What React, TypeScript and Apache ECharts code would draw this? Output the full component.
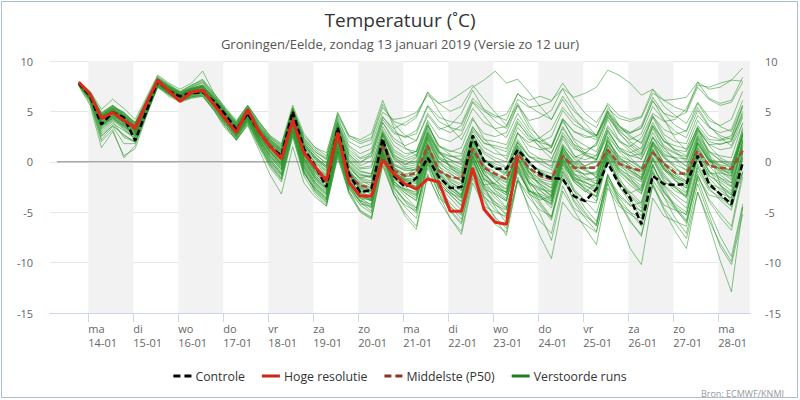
import { useRef, useEffect } from "react";
import * as echarts from "echarts";
import type { EChartsOption } from "echarts";

// x-axis in days relative to ma 14-01 00:00, one value every 6 hours
const FIRST_X = -5 / 24; // zo 13-01 19:00
const STEP_X = 0.25;
const X_MIN = -0.851;
const X_MAX = 14.704;

const dayNames = ["ma", "di", "wo", "do", "vr", "za", "zo", "ma", "di", "wo", "do", "vr", "za", "zo", "ma"];
const dayDates = ["14-01", "15-01", "16-01", "17-01", "18-01", "19-01", "20-01", "21-01", "22-01", "23-01", "24-01", "25-01", "26-01", "27-01", "28-01"];
const shadedDays = [0, 2, 4, 6, 8, 10, 12, 14];
const yTicks = [-15, -10, -5, 0, 5, 10];

const controle = [
  7.8, 6.5, 3.7, 4.9, 4.4, 2.1, 5.0, 8.0, 7.0, 6.5, 6.8, 6.9, 6.0, 4.7, 3.2, 4.8, 3.0, 1.5, 0.6, 5.0,
  1.3, -0.4, -2.5, 3.4, -1.2, -3.0, -2.8, 2.3, -1.4, -2.5, -1.6, 0.4, -1.5, -2.6, -2.5, 2.6, 0.1, -0.7, -0.7, 1.2,
  0.0, -1.2, -1.6, -1.7, -3.4, -3.9, -2.7, -0.1, -2.2, -3.6, -6.2, -1.4, -2.2, -2.3, -2.2, 0.6, -2.2, -3.2, -4.2, -0.1,
];

const hogeResolutie = [
  7.9, 6.7, 4.3, 4.9, 4.1, 3.4, 5.8, 8.1, 7.0, 6.0, 6.9, 7.1, 5.7, 4.3, 2.9, 5.2, 3.0, 1.5, 0.3, 4.1,
  0.9, -0.5, -1.9, 2.9, -2.0, -3.4, -3.4, 0.2, -1.2, -2.2, -2.7, -1.7, -2.0, -4.9, -4.9, -0.6, -4.7, -6.0, -6.2, 0.5,
];

const middelste = [
  7.8, 6.6, 4.2, 4.9, 4.2, 3.2, 5.6, 8.0, 7.1, 6.5, 7.0, 7.1, 5.9, 4.6, 3.2, 4.8, 3.0, 1.6, 0.6, 4.4,
  1.0, -0.6, -1.7, 2.7, -1.3, -2.4, -2.5, 1.7, -0.9, -1.4, -1.1, 1.6, -0.9, -1.5, -1.7, 1.3, -0.6, -1.2, -1.7, 0.8,
  -0.6, -1.4, -1.7, 0.6, -0.6, -0.6, -0.6, 1.2, -0.2, -0.6, -0.9, 0.9, -0.2, -1.1, -1.2, 1.1, -0.4, -0.6, -0.7, 1.1,
];

// 50 verstoorde runs
const runs: number[][] = [
  [7.9, 6.8,4.5,5.2,4.4, 3.4,5.8,8.2,7.4, 6.7,7.2,7.4,6.2, 4.8,3.5,5.1,3.3, 1.9,1.0,4.9,1.6, 0.2,-0.8,3.5,0.1, -1.0,-1.2,2.8,0.5, -0.3,0.4,3.2,0.9, 0.2,-0.3,2.6,0.8, 0.1,-0.5,2.2,0.6, -0.2,-0.8,1.8,0.3, -0.4,0.2,2.5,1.1, 0.6,0.3,2.4,1.4, 0.8,0.5,3.1,1.7, 1.2,1.4,3.8],
  [7.7, 6.4,3.8,4.6,3.9, 2.8,5.3,7.8,7.0, 6.3,6.8,7.0,5.7, 4.2,2.8,4.5,2.5, 1.0,-0.2,4.0,0.3, -1.5,-2.8,2.0,-2.2, -3.8,-4.5,0.6,-2.4, -3.9,-4.8,0.2,-2.6, -4.1,-5.2,-0.5,-3.4, -4.8,-5.6,-0.8,-2.9, -3.6,-4.1,0.4,-1.8, -2.7,-3.5,0.9,-1.5, -3.4,-4.6,-0.3,-2.6, -4.5,-5.8,-1.2,-3.9, -5.5,-6.8,-1.5],
  [7.8, 6.7,4.6,5.4,4.8, 3.9,6.1,8.3,7.5, 6.9,7.3,7.6,6.4, 5.0,3.7,5.3,3.6, 2.2,1.4,5.1,2.0, 0.8,-0.2,3.9,1.5, 0.4,0.9,4.2,2.8, 2.5,3.1,5.6,4.4, 4.0,3.8,6.3,5.2, 4.6,4.1,6.8,5.5, 4.8,4.2,6.5,5.0, 4.1,3.4,5.8,4.6, 4.2,4.5,7.2,6.1, 5.4,5.0,7.9,6.3, 5.8,6.1,8.4],
  [7.6, 6.2,2.8,3.8,3.1, 2.4,4.9,7.6,6.8, 6.0,6.4,6.8,5.4, 3.8,2.4,4.2,2.0, 0.2,-1.0,3.2,-0.6, -2.4,-3.7,1.1,-3.0, -4.9,-5.6,-0.2,-3.3, -5.1,-6.4,-1.2,-3.8, -5.6,-6.9,-1.6,-4.4, -6.2,-7.0,-1.8,-3.6, -4.8,-5.4,-0.9,-2.9, -3.8,-4.1,0.2,-2.2, -3.1,-2.6,1.0,-0.8, -1.6,-2.0,1.9,0.1, -0.8,-1.2,2.6],
  [7.9, 6.9,4.9,5.6,4.6, 3.5,5.9,8.1,7.1, 6.4,6.9,7.2,6.0, 4.5,3.1,4.9,2.9, 1.3,0.1,4.6,0.8, -0.9,-2.0,3.0,-0.8, -2.6,-3.2,2.2,-0.5, -1.8,-2.5,2.4,-0.4, -2.0,-2.8,2.0,-0.9, -2.6,-3.3,1.4,-1.0, -2.5,-3.4,1.6,-0.6, -1.7,-2.2,2.5,0.0, -1.5,-2.4,2.0,-0.2, -1.8,-2.6,2.3,0.4, -0.9,-1.6,3.0],
  [7.5, 5.6,1.4,3.0,0.6, 1.3,4.5,7.5,6.6, 6.0,6.6,7.0,5.5, 3.9,2.5,4.0,1.8, -0.4,-1.8,2.6,-1.2, -2.6,-3.6,1.3,-2.0, -3.0,-2.8,1.8,-0.6, -1.4,-0.6,2.9,0.6, -0.5,-1.4,2.1,-0.2, -1.8,-3.0,0.5,-2.2, -4.0,-5.5,-1.6,-3.8, -5.2,-6.4,-1.8,-3.4, -4.4,-4.0,0.3,-1.8, -2.9,-3.4,1.4,-0.9, -2.4,-3.1,2.2],
  [8.0, 7.0,5.2,6.2,5.3, 4.2,6.4,8.6,7.8, 7.2,7.8,9.0,6.8, 5.4,4.1,5.6,3.9, 2.4,1.6,5.3,2.2, 1.0,0.2,4.6,2.4, 1.8,2.2,5.4,4.0, 3.6,4.4,6.9,5.8, 5.0,5.5,7.4,8.1, 9.0,7.8,8.2,6.9, 5.5,4.2,6.2,4.4, 3.1,2.4,5.1,3.6, 2.9,3.3,6.0,4.8, 4.4,4.9,7.4,6.2, 5.6,5.9,7.9],
  [7.8, 6.5,4.0,4.8,4.0, 3.0,5.5,7.9,7.1, 6.4,6.9,7.1,5.9, 4.4,3.0,4.7,2.7, 1.2,0.0,4.2,0.5, -1.1,-2.2,2.5,-1.0, -2.2,-2.9,1.9,-0.9, -1.9,-2.6,1.5,-1.2, -2.4,-3.4,0.8,-1.9, -3.3,-4.5,-0.2,-2.6, -4.2,-5.6,-1.0,-3.4, -5.0,-6.3,-1.2,-3.9, -5.8,-7.4,-2.3,-4.8, -6.9,-8.6,-3.0,-6.2, -9.8,-12.9,-4.5],
  [7.8, 6.6,4.3,5.0,4.4, 3.3,5.7,8.1,7.3, 6.6,7.1,7.3,6.1, 4.7,3.3,4.9,3.2, 1.8,0.8,4.7,1.3, -0.1,-1.0,3.3,-0.2, -1.3,-1.6,2.9,0.6, 0.1,0.5,3.6,1.5, 1.0,1.4,4.2,2.8, 2.5,2.9,5.6,4.1, 4.4,5.1,7.3,6.4, 6.8,7.4,9.1,8.6, 7.8,6.6,7.2,5.5, 4.6,3.8,5.9,4.4, 3.5,3.0,5.6],
  [7.7, 6.3,3.5,4.3,3.6, 2.6,5.1,7.7,6.9, 6.2,6.7,7.0,5.6, 4.1,2.6,4.3,2.2, 0.6,-0.6,3.6,-0.2, -2.0,-3.2,1.6,-2.6, -4.3,-5.1,0.3,-2.9, -4.5,-5.6,-0.6,-3.2, -4.8,-6.0,-1.1,-3.9, -5.5,-6.6,-1.5,-4.7, -7.4,-9.6,-4.0,-5.5, -6.2,-7.0,-2.2,-4.1, -5.0,-5.6,-1.1,-3.0, -4.2,-5.0,-0.6,-2.6, -3.8,-4.8,-0.2],
  [7.9, 6.7,4.4,5.1,4.2, 3.1,5.6,8.0,7.2, 6.5,7.0,7.0,5.8, 4.3,2.9,4.6,2.6, 1.0,-0.3,4.1,0.4, -1.3,-2.5,2.4,-1.4, -2.8,-3.6,1.2,-1.6, -2.7,-3.3,1.0,-1.8, -3.0,-4.0,0.3,-2.6, -4.0,-5.2,-0.4,-3.0, -4.4,-5.8,-1.3,-4.0, -5.6,-6.9,-2.0,-5.7, -8.6,-10.2,-3.6,-5.4, -5.9,-6.4,-1.5,-3.3, -3.6,-4.4,0.4],
  [7.8, 6.6,4.1,4.8,4.3, 3.4,5.6,7.9,7.2, 6.6,7.1,7.2,6.0, 4.6,3.3,4.9,3.0, 1.5,0.5,4.5,0.9, -0.7,-1.8,2.8,-0.9, -2.0,-2.1,2.0,-0.4, -0.8,-0.9,2.7,0.3, -0.4,-1.0,2.4,0.2, -0.6,-1.1,2.0,0.5, 0.0,-0.4,2.6,1.3, 0.9,0.6,3.4,2.0, 1.5,2.4,4.8,4.0, 4.2,5.3,7.6,7.4, 7.8,8.1,9.3],
  [7.6, 6.0,2.2,3.5,1.8, 1.8,4.7,7.6,6.9, 6.3,6.7,7.0,5.6, 4.0,2.6,4.4,2.3, 0.4,-0.8,3.5,-0.5, -2.3,-3.5,1.4,-2.3, -4.0,-4.6,0.9,-1.9, -3.1,-3.9,0.6,-2.1, -3.2,-4.4,0.0,-2.3, -2.1,-1.0,2.8,1.9, 2.4,3.2,5.4,4.1, 3.3,2.6,4.9,2.9, 1.6,0.7,3.3,1.4, 0.2,-0.9,2.5,0.5, -0.6,-1.4,2.8],
  [7.8, 6.5,4.7,5.5,4.9, 3.8,5.9,8.2,7.3, 6.6,7.4,7.9,6.5, 5.1,3.8,5.4,3.7, 2.3,1.2,5.0,1.8, 0.5,-0.5,3.8,0.8, -0.4,0.1,3.5,1.6, 0.8,1.0,3.9,1.2, -0.6,-1.5,1.8,-0.4, -1.6,-2.4,1.4,-0.7, -1.8,-2.6,1.2,-0.9, -1.2,-1.0,2.2,0.4, -0.2,-0.9,2.5,0.8, 0.3,-0.4,2.8,0.9, 0.2,-0.3,3.2],
  [7.7, 6.6,4.2,4.8,3.8, 2.5,5.2,7.8,7.0, 6.4,6.8,6.9,5.7, 4.1,2.6,4.2,2.1, 0.3,-1.2,3.3,-0.9, -3.0,-4.2,0.7,-2.7, -3.9,-3.3,1.4,-1.2, -1.6,-1.9,1.8,-0.8, -1.7,-2.2,1.5,-0.6, -1.4,-2.0,1.0,-0.9, -2.3,-3.5,0.1,-2.0, -3.0,-2.1,1.6,0.3, -0.4,-1.3,1.7,-0.6, -1.8,-3.0,0.5,-1.9, -3.3,-4.5,-0.9],
  [7.9, 6.8,4.6,5.3,4.5, 3.6,6.0,8.4,7.6, 6.9,7.5,8.0,6.7, 5.2,3.9,5.6,4.0, 2.5,1.7,5.4,2.4, 1.2,0.4,4.2,2.0, 1.4,1.8,4.9,4.2, 4.4,4.9,6.6,5.8, 6.1,6.8,7.6,6.2, 4.9,3.6,5.8,3.8, 2.2,1.4,4.2,2.1, 0.8,0.2,3.1,1.3, 0.4,-0.6,2.4,0.6, -0.5,-1.6,1.8,0.0, -1.0,-1.8,2.1],
  [7.6, 6.1,3.2,4.1,3.3, 2.2,4.9,7.6,6.8, 6.1,6.5,6.6,5.2, 3.6,2.2,3.8,1.6, -0.2,-1.6,2.8,-1.0, -2.9,-4.0,0.9,-2.9, -4.8,-5.5,0.1,-3.2, -5.4,-6.7,-1.4,-3.6, -4.5,-5.3,-0.6,-2.7, -3.2,-3.9,0.2,-2.0, -2.8,-3.9,0.0,-1.7, -2.0,-2.8,1.3,-0.7, -1.4,-2.0,1.8,-0.1, -0.8,-1.2,2.4,0.7, -0.4,-0.9,3.4],
  [7.8, 6.7,4.5,5.3,4.6, 3.7,5.8,8.1,7.4, 6.8,7.2,7.5,6.3, 4.9,3.6,5.2,3.4, 2.0,1.1,5.2,2.6, 1.4,0.9,4.8,2.6, 2.2,2.8,6.1,3.4, 1.4,0.6,3.4,1.0, -0.4,-1.1,2.2,0.1, -0.7,-1.2,1.9,-0.1, -1.0,-1.8,1.1,-0.4, -0.9,-1.3,2.2,0.5, -0.5,-1.7,1.6,-0.1, -1.2,-1.9,2.0,0.2, -0.5,-1.0,2.9],
  [7.7, 6.5,3.9,4.7,4.0, 3.0,5.4,7.9,7.1, 6.5,6.9,7.1,5.9, 4.5,3.1,4.7,2.8, 1.4,0.4,4.4,0.7, -1.0,-2.1,2.6,-1.0, -2.5,-2.9,1.6,-1.1, -1.9,-2.2,1.7,-0.8, -1.8,-2.4,1.2,-0.9, -1.5,-2.1,0.9,-0.7, -1.2,-1.7,1.6,0.4, 0.9,1.7,4.5,3.2, 2.8,3.4,6.1,4.2, 2.3,1.1,3.4,0.8, -2.2,-4.0,-1.1],
  [7.8, 6.4,3.6,4.4,3.4, 2.5,5.0,7.7,7.0, 6.3,6.8,7.0,5.7, 4.3,2.9,4.6,2.7, 1.1,-0.1,4.0,0.2, -1.7,-2.9,2.1,-1.6, -3.1,-3.8,0.9,-1.8, -2.2,-2.4,1.3,-1.0, -2.4,-3.2,1.0,-1.3, -2.9,-3.8,0.4,-1.6, -2.7,-3.0,0.8,-1.1, -2.3,-3.1,0.7,-1.9, -3.8,-5.0,-0.8,-3.1, -4.4,-5.3,-0.4,-2.5, -3.1,-3.6,0.5],
  [7.9, 6.8,4.6,5.4,4.7, 3.7,6.0,8.2,7.5, 6.8,7.3,7.6,6.4, 5.0,3.6,5.2,3.4, 2.1,1.2,4.9,1.7, 0.3,-0.6,3.6,0.6, -0.6,-0.4,3.2,1.2, 0.5,1.1,4.1,2.4, 2.0,2.7,5.3,3.9, 3.3,3.5,6.2,5.4, 5.6,6.0,7.8,6.2, 4.8,3.9,5.6,3.6, 2.4,1.9,4.6,2.7, 2.0,1.8,4.6,3.4, 2.9,3.2,6.1],
  [7.6, 6.2,3.0,4.0,2.4, 2.0,4.8,7.4,6.5, 5.9,6.3,6.5,5.1, 3.3,2.2,3.6,1.2, -1.3,-3.2,1.5,-2.1, -3.5,-4.4,0.4,-3.0, -4.2,-4.4,0.4,-2.3, -2.7,-3.0,1.0,-1.5, -2.5,-3.3,0.6,-1.6, -2.8,-3.6,0.2,-2.0, -3.3,-4.2,-0.3,-1.8, -2.4,-2.8,1.1,-0.8, -1.8,-2.6,1.3,-0.5, -1.4,-2.2,1.6,-0.4, -1.6,-2.4,1.9],
  [7.9, 6.6,4.4,5.0,4.3, 3.2,5.7,8.0,7.2, 6.5,7.0,7.2,5.9, 4.5,3.2,4.8,3.0, 1.6,0.6,4.6,1.1, -0.6,-1.6,3.0,-0.5, -1.8,-2.4,2.0,-0.6, -1.2,-1.0,2.2,-0.2, -0.9,-1.6,1.6,-0.4, -1.0,-1.8,1.1,-0.3, -0.8,-1.2,1.4,-0.1, -0.6,-0.4,2.0,0.6, 0.1,-0.6,1.9,0.4, -0.3,-0.8,1.9,0.2, 0.0,-0.4,2.3],
  [7.8, 6.7,4.4,5.1,4.5, 3.5,5.7,8.0,7.3, 6.6,7.1,7.4,6.2, 4.8,3.4,5.0,3.2, 1.8,0.9,4.7,1.5, 0.0,-0.9,3.4,0.2, -0.9,-1.2,2.9,0.8, -0.2,0.1,3.0,1.0, 0.6,0.2,3.2,1.9, 1.4,1.0,3.8,2.6, 1.9,1.6,4.3,3.0, 2.4,2.6,5.3,4.3, 4.0,4.4,6.8,6.1, 6.2,6.4,7.9,7.2, 7.4,8.1,8.0],
  [7.7, 6.3,3.3,4.2,3.5, 2.7,5.2,7.7,6.9, 6.2,6.6,6.8,5.5, 3.9,2.5,4.1,2.1, 0.1,-1.3,3.1,-0.8, -2.6,-3.8,1.2,-2.5, -4.0,-4.9,0.5,-2.6, -3.8,-4.6,0.0,-2.5, -4.4,-5.7,-0.9,-3.6, -5.6,-7.3,-1.9,-4.4, -5.9,-7.1,-2.4,-4.6, -5.4,-6.2,-1.4,-3.2, -4.3,-4.9,-0.5,-2.3, -3.3,-4.1,0.3,-1.6, -2.8,-3.6,0.9],
  [7.8, 6.6,4.3,4.9,4.1, 3.1,5.6,7.9,7.1, 6.5,6.9,7.2,6.0, 4.6,3.3,4.9,3.0, 1.5,0.4,4.3,0.7, -0.9,-2.0,2.7,-0.7, -1.6,-1.4,2.6,0.3, -0.6,-0.8,2.5,0.0, -1.1,-2.0,1.1,-1.2, -2.2,-3.1,0.6,-1.1, -1.9,-2.3,1.4,0.0, -0.4,0.0,3.0,1.4, 0.6,0.8,3.6,2.1, 1.2,1.0,3.4,1.6, 0.4,-0.2,2.6],
  [7.9, 6.9,4.8,5.5,4.7, 3.8,6.1,8.3,7.5, 6.9,7.6,8.1,6.6, 5.2,3.9,5.5,3.8, 2.4,1.5,5.3,2.3, 1.0,0.3,4.4,1.6, 0.8,1.3,4.5,3.0, 2.4,2.8,5.5,4.0, 3.4,3.1,5.9,4.6, 3.2,2.4,4.8,3.1, 1.8,0.8,3.5,1.7, 1.2,1.6,4.4,3.0, 2.2,2.8,5.5,4.1, 3.0,2.4,5.1,3.5, 2.6,2.2,5.0],
  [7.7, 6.5,4.0,4.7,3.9, 2.9,5.4,7.8,7.0, 6.4,6.8,7.0,5.8, 4.3,2.9,4.5,2.5, 0.9,-0.4,3.9,0.0, -1.6,-2.7,2.2,-1.6, -3.0,-3.5,1.1,-1.5, -2.3,-2.8,1.2,-1.2, -2.2,-2.9,0.9,-1.2, -2.4,-3.3,0.3,-1.5, -2.0,-2.6,0.7,-1.2, -1.6,-1.9,1.5,-0.4, -1.1,-1.8,1.2,-0.8, -1.9,-2.6,1.0,-1.0, -1.8,-2.5,1.4],
  [7.8, 6.4,3.7,4.5,3.7, 2.8,5.3,7.8,7.0, 6.3,6.8,6.9,5.7, 4.2,2.8,4.5,2.4, 0.8,-0.4,3.8,0.0, -1.6,-2.6,2.1,-1.6, -3.1,-3.7,1.0,-1.5, -2.5,-3.2,0.8,-1.6, -2.8,-3.5,0.6,-1.7, -2.6,-3.0,0.9,-1.2, -2.2,-2.9,0.9,-1.4, -2.8,-3.9,0.3,-2.4, -4.1,-5.4,-1.0,-3.5, -5.6,-7.1,-2.2,-5.3, -8.4,-10.2,-5.2],
  [7.9, 6.8,4.7,5.5,4.9, 3.9,6.2,8.5,7.7, 7.0,7.6,8.2,6.8, 5.3,4.0,5.6,4.0, 2.6,1.8,5.6,2.8, 1.4,0.6,4.9,2.6, 2.0,2.4,5.7,3.8, 2.6,2.1,4.6,3.2, 3.6,4.8,7.1,5.2, 4.0,3.3,5.6,3.4, 2.4,1.5,4.0,2.3, 1.6,1.0,4.2,2.2, 1.3,0.5,3.5,1.6, 0.9,0.0,3.2,1.7, 1.8,2.0,4.8],
  [7.6, 6.2,3.4,4.3,3.2, 2.3,5.0,7.6,6.8, 6.1,6.5,6.7,5.3, 3.8,2.4,4.0,1.9, -0.1,-1.4,3.0,-1.0, -2.8,-4.0,1.0,-2.4, -3.6,-3.8,0.9,-2.2, -3.4,-4.6,0.1,-2.8, -4.9,-6.2,-1.3,-3.5, -4.3,-4.8,-0.4,-2.1, -2.6,-3.3,0.6,-1.3, -1.8,-1.6,1.8,0.0, -0.9,-1.5,2.0,0.4, -0.6,-1.4,2.2,0.3, -1.3,-2.1,1.7],
  [7.8, 6.6,4.2,5.0,4.2, 3.3,5.6,8.0,7.2, 6.6,7.1,7.3,6.0, 4.6,3.2,4.8,3.0, 1.6,0.7,4.5,1.0, -0.5,-1.4,3.1,-0.4, -1.6,-1.9,2.3,-0.2, -0.7,-0.5,2.6,0.4, 0.0,-0.6,2.3,0.2, -0.4,-1.0,1.6,-0.2, -1.0,-1.7,1.0,-0.7, -1.3,-1.1,2.0,0.2, -0.8,-1.6,1.2,-0.6, -1.6,-2.4,1.4,-0.3, -0.7,-1.1,2.5],
  [7.7, 6.4,3.9,4.6,3.9, 3.0,5.4,7.9,7.1, 6.4,6.8,7.0,5.8, 4.3,2.9,4.5,2.5, 1.0,-0.2,4.0,0.3, -1.4,-2.5,2.3,-1.3, -2.6,-3.0,1.5,-1.1, -1.7,-2.1,1.5,-1.0, -2.0,-2.6,1.1,-1.2, -2.3,-3.1,0.5,-1.8, -3.4,-4.6,-0.6,-2.9, -4.6,-5.9,-1.6,-4.0, -6.0,-7.2,-2.4,-4.3, -4.8,-5.2,-0.9,-2.8, -3.5,-4.0,0.3],
  [7.9, 6.8,4.6,5.3,4.6, 3.6,5.9,8.2,7.4, 6.8,7.2,7.5,6.3, 5.0,3.7,5.3,3.5, 2.1,1.2,5.0,1.9, 0.5,-0.4,3.7,0.7, -0.2,0.9,4.4,3.3, 3.9,4.6,6.9,5.0, 3.4,2.2,4.4,2.3, 1.2,0.3,2.9,1.0, 0.3,-0.6,2.3,0.6, 0.2,0.6,3.6,2.1, 1.0,0.2,2.9,1.1, 0.4,-0.5,2.6,1.0, 0.6,0.4,3.9],
  [7.6, 6.1,2.6,3.6,2.7, 1.9,4.8,7.5,6.7, 6.0,6.4,6.6,5.2, 3.6,2.2,3.9,1.7, -0.3,-1.7,2.9,-1.1, -2.7,-3.8,1.0,-2.4, -3.9,-4.2,0.7,-2.6, -4.0,-5.1,-0.3,-3.2, -5.6,-7.2,-2.1,-4.4, -5.0,-5.4,-0.9,-2.9, -3.2,-3.7,0.5,-1.6, -2.1,-2.4,1.2,-0.6, -1.6,-2.9,0.9,-1.2, -2.5,-3.6,0.4,-1.4, -2.0,-2.9,1.2],
  [7.8, 6.7,4.3,5.0,4.2, 3.2,5.6,8.0,7.2, 6.5,7.0,7.1,6.0, 4.6,3.2,4.8,2.9, 1.5,0.5,4.4,0.9, -0.7,-1.7,2.7,-1.0, -2.3,-2.6,1.7,-0.9, -1.5,-1.3,1.6,-0.8, -1.5,-1.8,1.3,-0.6, -1.3,-1.8,0.8,-0.6, -1.5,-1.8,0.6,-0.5, -0.7,-0.5,1.2,-0.1, -0.6,-1.0,0.9,-0.2, -1.2,-1.3,1.1,-0.3, -0.6,-0.8,1.2],
  [7.8, 6.5,4.5,5.2,4.4, 3.4,5.8,8.1,7.3, 6.7,7.2,7.5,6.2, 4.8,3.5,5.1,3.2, 1.8,0.9,4.8,1.4, -0.2,-1.2,3.3,0.0, -1.2,-1.5,2.6,0.2, -0.5,-0.3,2.8,0.8, 0.2,-0.2,2.7,1.0, 0.4,0.0,2.9,1.6, 1.2,1.4,4.2,3.0, 2.6,2.2,5.0,3.4, 2.9,3.6,6.4,4.8, 3.6,3.0,5.4,3.6, 2.4,1.6,4.4],
  [7.7, 6.3,3.6,4.4,3.6, 2.7,5.2,7.7,6.9, 6.3,6.7,6.9,5.6, 4.0,2.7,4.3,2.3, 0.6,-0.7,3.6,-0.3, -2.0,-3.1,1.8,-1.9, -3.4,-3.9,0.8,-2.0, -2.8,-3.4,0.6,-1.9, -3.0,-3.9,0.1,-2.3, -3.6,-4.6,-0.6,-3.1, -5.2,-7.8,-2.9,-4.8, -6.6,-8.2,-2.6,-4.4, -5.2,-6.0,-1.8,-3.5, -4.7,-5.9,-1.4,-3.7, -5.1,-6.4,-1.0],
  [7.8, 6.7,4.5,5.2,4.6, 3.6,5.8,8.1,7.4, 6.7,7.3,7.6,6.3, 4.9,3.6,5.2,3.3, 2.0,1.0,4.9,1.7, 0.3,-0.6,3.5,0.4, -0.7,-0.6,3.0,1.0, 0.3,0.7,3.6,1.6, 1.1,0.8,3.5,1.8, 1.6,1.3,4.0,2.4, 1.5,0.9,3.3,1.7, 0.7,0.3,3.2,1.4, 0.9,1.4,4.5,3.2, 2.7,3.1,5.8,4.1, 3.6,4.2,7.0],
  [7.5, 5.8,2.0,3.2,0.4, 1.6,4.6,7.4,6.7, 6.1,6.6,6.8,5.4, 3.8,2.3,4.1,1.9, 0.0,-1.2,3.2,-0.6, -2.2,-3.3,1.6,-2.0, -3.4,-3.7,1.1,-1.4, -1.8,-1.5,2.1,0.0, -0.7,-1.2,2.0,0.3, -0.6,-1.4,1.6,0.0, -0.9,-1.5,1.2,-0.4, -1.4,-2.2,0.8,-1.2, -2.3,-3.2,0.4,-1.6, -2.4,-3.1,0.9,-0.9, -1.6,-2.1,1.6],
  [7.8, 6.6,4.1,4.9,4.1, 3.1,5.5,7.9,7.1, 6.5,7.0,7.2,5.9, 4.4,3.0,4.6,2.7, 1.2,0.1,4.2,0.6, -1.1,-2.2,2.5,-1.1, -2.4,-2.8,1.6,-1.0, -1.8,-2.0,1.4,-1.3, -2.5,-3.4,0.5,-2.4, -4.5,-6.1,-1.8,-3.2, -3.8,-3.4,0.6,-0.4, 0.8,1.9,4.7,3.6, 2.6,1.8,4.4,2.4, 1.0,0.2,3.0,1.1, 0.1,-0.6,2.7],
  [7.9, 6.7,4.4,5.1,4.3, 3.3,5.7,8.0,7.2, 6.5,7.0,7.2,6.0, 4.5,3.1,4.8,2.9, 1.4,0.3,4.4,0.8, -0.8,-1.9,2.8,-0.8, -2.1,-2.6,1.8,-0.7, -1.3,-1.6,1.9,-0.5, -1.2,-1.9,1.4,-0.8, -1.8,-2.7,0.6,-1.4, -2.2,-3.1,0.2,-1.5, -2.0,-2.6,0.9,-0.9, -1.9,-2.9,0.5,-1.4, -2.6,-3.5,0.6,-1.3, -2.3,-3.3,0.8],
  [7.9, 6.9,4.8,5.6,4.8, 3.8,6.0,8.3,7.6, 6.9,7.4,7.8,6.5, 5.1,3.8,5.4,3.6, 2.2,1.3,5.1,2.1, 0.7,-0.1,4.0,1.2, 0.3,0.6,3.9,2.3, 1.6,2.1,4.8,3.4, 2.9,3.6,6.0,5.0, 4.4,4.7,6.7,6.1, 6.5,6.1,7.2,5.3, 3.8,2.6,4.6,2.8, 1.8,0.9,3.6,2.0, 1.6,1.3,4.1,2.6, 2.2,2.6,5.4],
  [7.7, 6.4,3.8,4.6,3.8, 2.9,5.4,7.8,7.0, 6.3,6.8,7.0,5.7, 4.3,2.9,4.5,2.6, 1.0,-0.2,4.0,0.3, -1.3,-2.4,2.4,-1.3, -2.7,-3.2,1.4,-1.3, -2.1,-2.7,1.0,-1.5, -2.7,-3.6,0.3,-2.3, -3.1,-3.9,0.0,-2.2, -2.9,-3.6,0.3,-1.8, -2.6,-3.4,0.5,-2.0, -3.3,-4.3,-0.2,-2.9, -4.6,-6.1,-1.7,-4.8, -7.4,-9.4,-4.2],
  [7.9, 6.7,4.4,5.2,4.5, 3.5,5.8,8.1,7.3, 6.6,7.2,7.6,6.3, 4.9,3.5,5.2,3.4, 1.9,1.1,4.9,1.8, 0.4,-0.4,3.8,1.0, 0.0,0.5,3.9,2.0, 1.3,1.0,3.7,1.6, 0.7,0.1,3.0,1.4, 0.8,0.6,3.4,2.2, 2.0,2.5,5.1,3.7, 3.1,2.6,4.9,3.2, 2.0,1.2,3.9,2.0, 1.2,0.6,3.6,2.2, 2.1,2.4,5.6],
  [7.6, 6.0,2.5,3.6,2.6, 2.0,4.8,7.5,6.7, 6.0,6.4,6.5,5.1, 3.5,2.1,3.7,1.5, -0.6,-2.0,2.5,-1.4, -3.2,-4.4,0.6,-3.2, -5.0,-5.7,-0.4,-3.3, -4.3,-4.9,-0.2,-2.6, -3.1,-3.6,0.6,-1.8, -2.2,-2.7,1.0,-1.0, -1.7,-2.0,1.4,-0.2, -0.8,-1.5,1.7,-0.2, -0.9,-1.8,1.1,-0.8, -1.4,-1.9,1.8,0.1, -0.3,-0.5,2.7],
  [7.8, 6.6,4.2,4.9,4.2, 3.2,5.6,8.0,7.3, 6.7,7.2,7.4,6.1, 4.7,3.3,4.9,3.1, 1.7,0.7,4.6,1.2, -0.4,-1.3,3.2,-0.3, -1.4,-1.4,2.7,0.4, -0.3,-0.1,2.9,0.9, 0.5,0.6,3.4,2.2, 2.0,1.7,4.3,2.8, 1.4,0.3,2.6,0.7, -0.6,-1.6,1.1,-1.0, -2.0,-3.1,0.2,-2.0, -2.6,-3.3,0.7,-1.2, -1.1,-1.4,2.0],
  [7.7, 6.4,3.7,4.5,3.7, 2.8,5.3,7.8,7.0, 6.3,6.7,6.9,5.6, 4.1,2.7,4.3,2.3, 0.7,-0.5,3.7,-0.1, -1.8,-3.0,1.9,-1.8, -3.3,-3.9,0.8,-2.0, -2.9,-3.6,0.5,-2.1, -3.3,-4.3,-0.2,-2.8, -4.2,-5.3,-1.0,-2.9, -3.4,-3.9,-0.1,-2.0, -2.9,-3.5,0.4,-1.8, -3.0,-4.1,-0.3,-2.4, -3.6,-4.6,-0.2,-2.2, -2.6,-3.3,0.9],
  [7.8, 6.7,4.3,5.1,4.4, 3.4,5.7,8.0,7.2, 6.6,7.1,7.4,6.1, 4.7,3.3,4.9,3.1, 1.6,0.6,4.5,1.1, -0.5,-1.5,3.0,-0.4, -1.7,-2.1,2.1,-0.3, -0.9,-0.7,2.4,0.3, -0.3,-0.8,2.1,0.2, -0.2,-0.6,1.9,0.5, 0.3,0.1,2.9,1.5, 0.6,0.2,2.8,1.0, 0.1,-0.7,2.0,0.6, 0.4,0.3,3.3,2.0, 1.7,2.1,4.6],
  [7.7, 6.3,3.6,4.4,3.5, 2.6,5.2,7.7,6.9, 6.2,6.7,6.9,5.6, 4.1,2.7,4.3,2.2, 0.5,-0.8,3.5,-0.4, -2.1,-3.3,1.6,-2.1, -3.6,-4.3,0.6,-2.2, -3.1,-3.8,0.3,-2.4, -3.6,-4.8,-0.6,-3.1, -4.0,-4.7,-0.5,-2.8, -3.5,-4.3,-0.2,-2.7, -3.9,-5.1,-1.3,-3.6, -5.0,-6.4,-2.1,-4.6, -6.1,-7.6,-3.0,-5.8, -8.1,-9.9,-4.5],
];

const FONT = "'Open Sans', 'Noto Sans', sans-serif";

// dashed and solid legend icons
const DASH_ICON = "path://M0,0H7V3H0Z M11,0H18V3H11Z";
const LINE_ICON = "path://M0,0H18V3H0Z";

function toPoints(values: number[]) {
  return values.map((v, i) => [FIRST_X + i * STEP_X, v]);
}

export default function App() {
  const chartRef = useRef<HTMLDivElement>(null);

  useEffect(() => {
    document.body.style.margin = "0";
    if (!chartRef.current) return;

    const chart = echarts.init(chartRef.current, null, { renderer: "svg" });

    const dayIndex = dayNames.map((_, i) => i);
    const lastX = FIRST_X + (controle.length - 1) * STEP_X;

    const runSeries = runs.map((r) => ({
      name: "Verstoorde runs",
      type: "line" as const,
      data: toPoints(r),
      symbol: "none",
      silent: true,
      color: "#1e7b1e",
      lineStyle: { width: 1, color: "rgba(40,150,40,0.55)" },
      z: 3,
    }));

    const option: EChartsOption = {
      animation: false,
      textStyle: { fontFamily: FONT },
      title: [
        {
          text: "Temperatuur (˚C)",
          left: "center",
          top: 5,
          textStyle: { fontSize: 19, fontWeight: "normal", color: "#333", fontFamily: FONT },
        },
        {
          text: "Groningen/Eelde, zondag 13 januari 2019 (Versie zo 12 uur)",
          left: "center",
          top: 32,
          textStyle: { fontSize: 13, fontWeight: "normal", color: "#555", fontFamily: FONT },
        },
        {
          text: "Bron: ECMWF/KNMI",
          right: 11,
          top: 384,
          textStyle: { fontSize: 9, fontWeight: "normal", color: "#999", fontFamily: FONT },
        },
      ],
      legend: {
        left: "center",
        top: 365,
        itemWidth: 18,
        itemHeight: 3,
        itemGap: 17,
        textStyle: { fontSize: 12.3, color: "#333", fontFamily: FONT, padding: [0, 0, 0, -1] },
        data: [
          { name: "Controle", icon: DASH_ICON, itemStyle: { color: "#000" } },
          { name: "Hoge resolutie", icon: LINE_ICON, itemStyle: { color: "#c8281c" } },
          { name: "Middelste (P50)", icon: DASH_ICON, itemStyle: { color: "#8b3424" } },
          { name: "Verstoorde runs", icon: LINE_ICON, itemStyle: { color: "#1e7b1e" } },
        ],
      },
      grid: { left: 50, right: 50, top: 61, bottom: 87 },
      xAxis: {
        type: "value",
        min: X_MIN,
        max: X_MAX,
        splitLine: { show: false },
        axisLine: { show: true, onZero: false, lineStyle: { color: "#ccd6eb" } },
        axisTick: {
          show: true,
          length: 9,
          customValues: dayIndex,
          lineStyle: { color: "#ccd6eb" },
        },
        axisLabel: {
          customValues: dayIndex,
          align: "left",
          margin: 8,
          fontSize: 11,
          lineHeight: 14,
          color: "#666",
          fontFamily: FONT,
          formatter: (v: number) => {
            const i = Math.round(v);
            return `${dayNames[i]}\n${dayDates[i]}`;
          },
        },
      },
      yAxis: [
        {
          type: "value",
          min: yTicks[0],
          max: yTicks[yTicks.length - 1],
          interval: 5,
          axisLine: { show: false },
          axisTick: { show: false },
          splitLine: { lineStyle: { color: "#e6e6e6" } },
          axisLabel: { color: "#666", fontSize: 11, margin: 17, fontFamily: FONT },
        },
        {
          type: "value",
          position: "right",
          min: yTicks[0],
          max: yTicks[yTicks.length - 1],
          interval: 5,
          axisLine: { show: false },
          axisTick: { show: false },
          splitLine: { show: false },
          axisLabel: { color: "#666", fontSize: 11, margin: 15, fontFamily: FONT },
        },
      ],
      graphic: [
        {
          type: "rect",
          shape: { x: 1.5, y: 1.5, width: 796, height: 396 },
          style: { fill: "none", stroke: "#a9bed2", lineWidth: 1 },
          silent: true,
          z: 100,
        },
      ],
      series: [
        {
          name: "banden",
          type: "line",
          data: [],
          silent: true,
          z: -1,
          markArea: {
            silent: true,
            itemStyle: { color: "#f2f2f2" },
            data: shadedDays.map((d) => [
              { xAxis: d },
              { xAxis: Math.min(d + 1, X_MAX) },
            ]),
          },
        },
        {
          name: "nul",
          type: "line",
          data: [
            [-0.70, 0],
            [lastX, 0],
          ],
          symbol: "none",
          silent: true,
          lineStyle: { width: 1, color: "#888" },
          z: 2,
        },
        ...runSeries,
        {
          name: "Middelste (P50)",
          type: "line",
          data: toPoints(middelste),
          symbol: "none",
          color: "#8b3424",
          lineStyle: { width: 2.5, type: [6, 3], color: "#a84a34" },
          z: 4,
        },
        {
          name: "Controle",
          type: "line",
          data: toPoints(controle),
          symbol: "none",
          color: "#000",
          lineStyle: { width: 2.5, type: [6, 3], color: "#000" },
          z: 5,
        },
        {
          name: "Hoge resolutie",
          type: "line",
          data: toPoints(hogeResolutie),
          symbol: "none",
          color: "#c8281c",
          lineStyle: { width: 3, color: "#e0281a" },
          z: 6,
        },
      ],
    };

    chart.setOption(option);

    return () => {
      chart.dispose();
    };
  }, []);

  return <div ref={chartRef} style={{ width: "800px", height: "400px" }} />;
}
